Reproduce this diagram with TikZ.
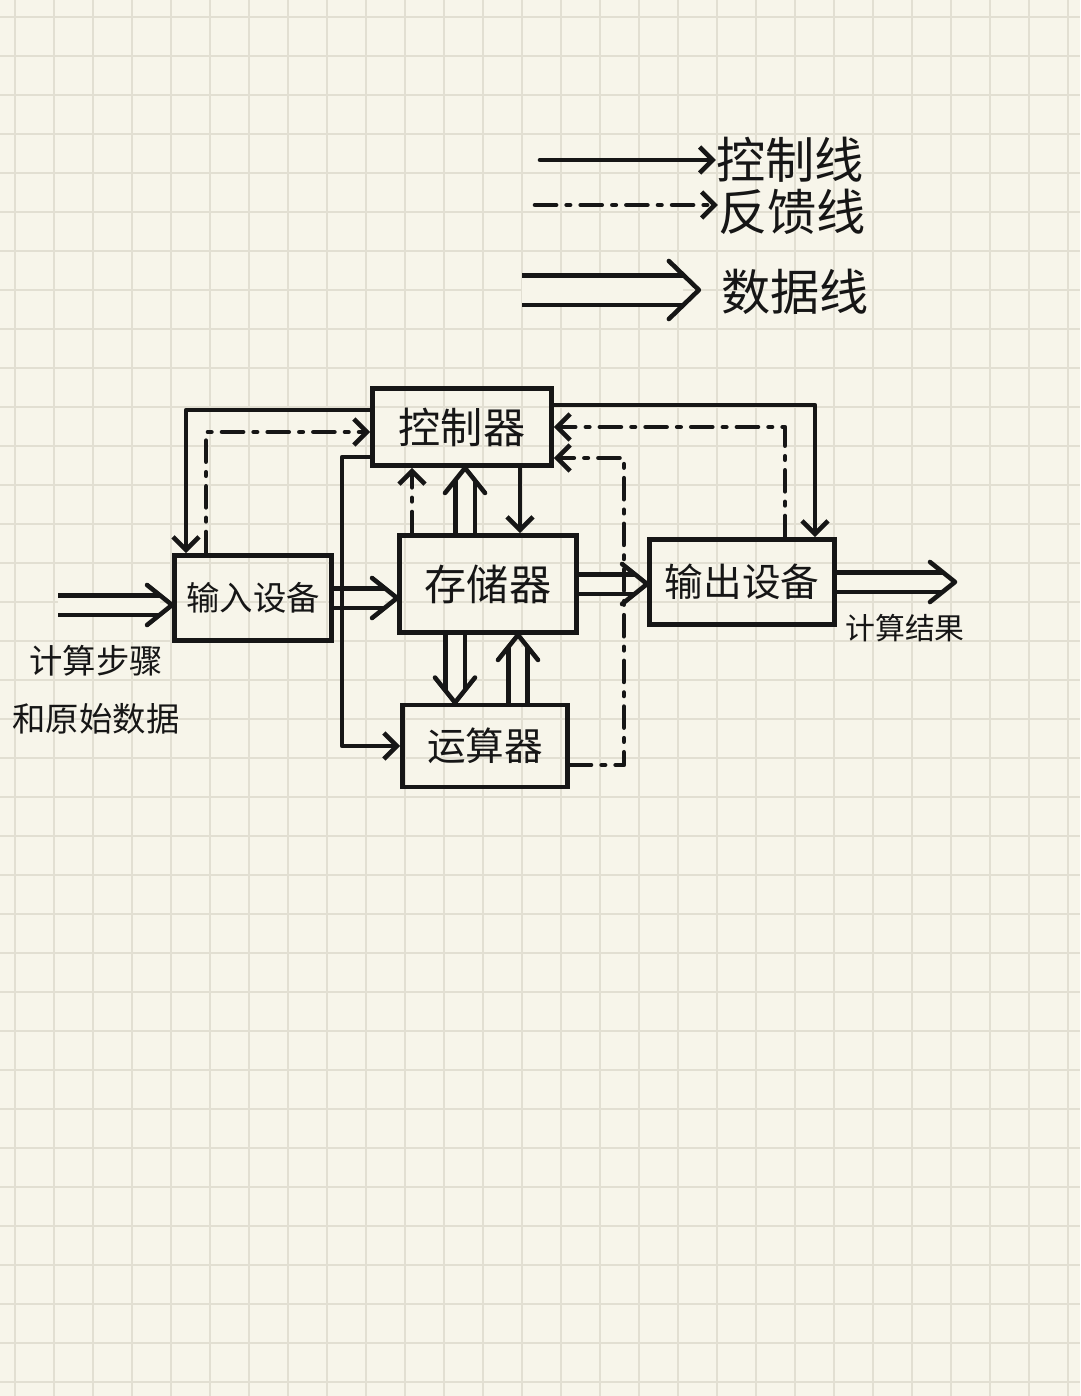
\documentclass[tikz,border=0pt]{standalone}
\usepackage{fontspec}
\setmainfont{Noto Sans CJK SC}
\usetikzlibrary{arrows.meta,calc,decorations.markings}
\definecolor{paperCream}{RGB}{247,245,234}
\definecolor{paperGrid}{RGB}{226,223,210}
\definecolor{inkBlack}{RGB}{22,22,22}

\begin{document}
\begin{tikzpicture}[x=0.02cm, y=-0.02cm,
    unitbox/.style={draw=inkBlack, line width=2.8pt, inner sep=0pt, text=inkBlack},
    ctrlline/.style={inkBlack, line width=2.6pt, line cap=round, line join=round, -{Straight Barb[length=0.26cm,width=0.52cm]}},
    backline/.style={ctrlline, dash pattern=on 12pt off 6pt on 2pt off 6pt},
    tipstroke/.style={draw=inkBlack, line width=2.6pt, line cap=round, line join=round},
    dataline/.style={preaction={draw=inkBlack, line width=2.6pt, double=paperCream, double distance=0.3cm, shorten >=0.25cm},
        postaction={decorate}, decoration={markings, mark=at position 1 with {\draw[tipstroke] (-0.5cm,0.4cm) -- (0,0) -- (-0.5cm,-0.4cm);}}},
    bigdataline/.style={preaction={draw=inkBlack, line width=2.6pt, double=paperCream, double distance=0.5cm, shorten >=0.32cm},
        postaction={decorate}, decoration={markings, mark=at position 1 with {\draw[tipstroke] (-0.6cm,0.58cm) -- (0,0) -- (-0.6cm,-0.58cm);}}},
    labeltext/.style={text=inkBlack, inner sep=0pt}]
    \fill[paperCream] (0,0) rectangle (1080,1396);
    \useasboundingbox (0,0) rectangle (1080,1396);
    \foreach \i in {0,...,27} \draw[paperGrid, line width=1pt] (15.3+39*\i,0) -- ++(0,1396);
    \foreach \j in {0,...,35} \draw[paperGrid, line width=1pt] (0,16.7+39*\j) -- ++(1080,0);

    \coordinate (legctrl) at (540,160);
    \coordinate (legback) at (535,205);
    \coordinate (legdata) at (522,290);
    \node[labeltext, font=\fontsize{28}{30}\selectfont] (legctrltext) at (790,160) {控制线};
    \node[labeltext, font=\fontsize{28}{30}\selectfont] (legbacktext) at (792,212) {反馈线};
    \node[labeltext, font=\fontsize{28}{30}\selectfont] (legdatatext) at (795,292) {数据线};
    \draw[ctrlline] (legctrl) -- (legctrl -| legctrltext.west);
    \draw[backline] (legback) -- (legback -| legbacktext.west);
    \path[bigdataline] (legdata) -- ($(legdata -| legdatatext.west)+(-22,0)$);

    \node[unitbox, minimum width=3.58cm, minimum height=1.54cm, font=\fontsize{24}{26}\selectfont] (ctrl) at (462,427) {控制器};
    \node[unitbox, minimum width=3.14cm, minimum height=1.7cm, font=\fontsize{19}{21}\selectfont] (in) at (253,598) {输入设备};
    \node[unitbox, minimum width=3.54cm, minimum height=1.94cm, font=\fontsize{24}{26}\selectfont] (mem) at (488,584) {存储器};
    \node[unitbox, minimum width=3.7cm, minimum height=1.7cm, font=\fontsize{22}{24}\selectfont] (out) at (742,582) {输出设备};
    \node[unitbox, minimum width=3.3cm, minimum height=1.64cm, font=\fontsize{22}{24}\selectfont] (alu) at (485,746) {运算器};

    \coordinate (src) at (58,605);
    \coordinate (res) at (955,575);
    \node[labeltext, align=center, font=\fontsize{19}{33}\selectfont] (srctext) at (96,690) {计算步骤\\和原始数据};
    \node[labeltext, font=\fontsize{17}{19}\selectfont] (restext) at (905,628) {计算结果};

    \path[dataline] (src) -- (src -| in.west);
    \path[dataline] (in.east) -- (in.east -| mem.west);
    \path[dataline] (mem.east) -- (mem.east -| out.west);
    \path[dataline] (out.east) -- (out.east -| res);
    \path[dataline] ([xshift=-0.66cm]mem.south) -- ([xshift=-0.66cm]mem.south |- alu.north);
    \path[dataline] ([xshift=0.66cm]alu.north) -- ([xshift=0.66cm]alu.north |- mem.south);
    \path[dataline] ([xshift=-0.46cm]mem.north) -- ([xshift=-0.46cm]mem.north |- ctrl.south);

    \draw[ctrlline] ([yshift=0.34cm]ctrl.west) -| ([xshift=-1.34cm]in.north);
    \draw[ctrlline] ([yshift=-0.6cm]ctrl.west) -- ++(-28,0) |- (alu.west);
    \draw[ctrlline] ([xshift=1.16cm]ctrl.south) -- ([xshift=1.16cm]ctrl.south |- mem.north);
    \draw[ctrlline] ([yshift=0.44cm]ctrl.east) -| ([xshift=1.46cm]out.north);

    \draw[backline] ([xshift=-0.94cm]in.north) |- ([yshift=-0.1cm]ctrl.west);
    \draw[backline] ([xshift=-1.52cm]mem.north) -- ([xshift=-1.52cm]mem.north |- ctrl.south);
    \draw[backline] ([yshift=-0.38cm]alu.east) -- ++(54,0) |- ([yshift=-0.62cm]ctrl.east);
    \draw[backline] ([xshift=0.86cm]out.north) |- (ctrl.east);
\end{tikzpicture}
\end{document}
